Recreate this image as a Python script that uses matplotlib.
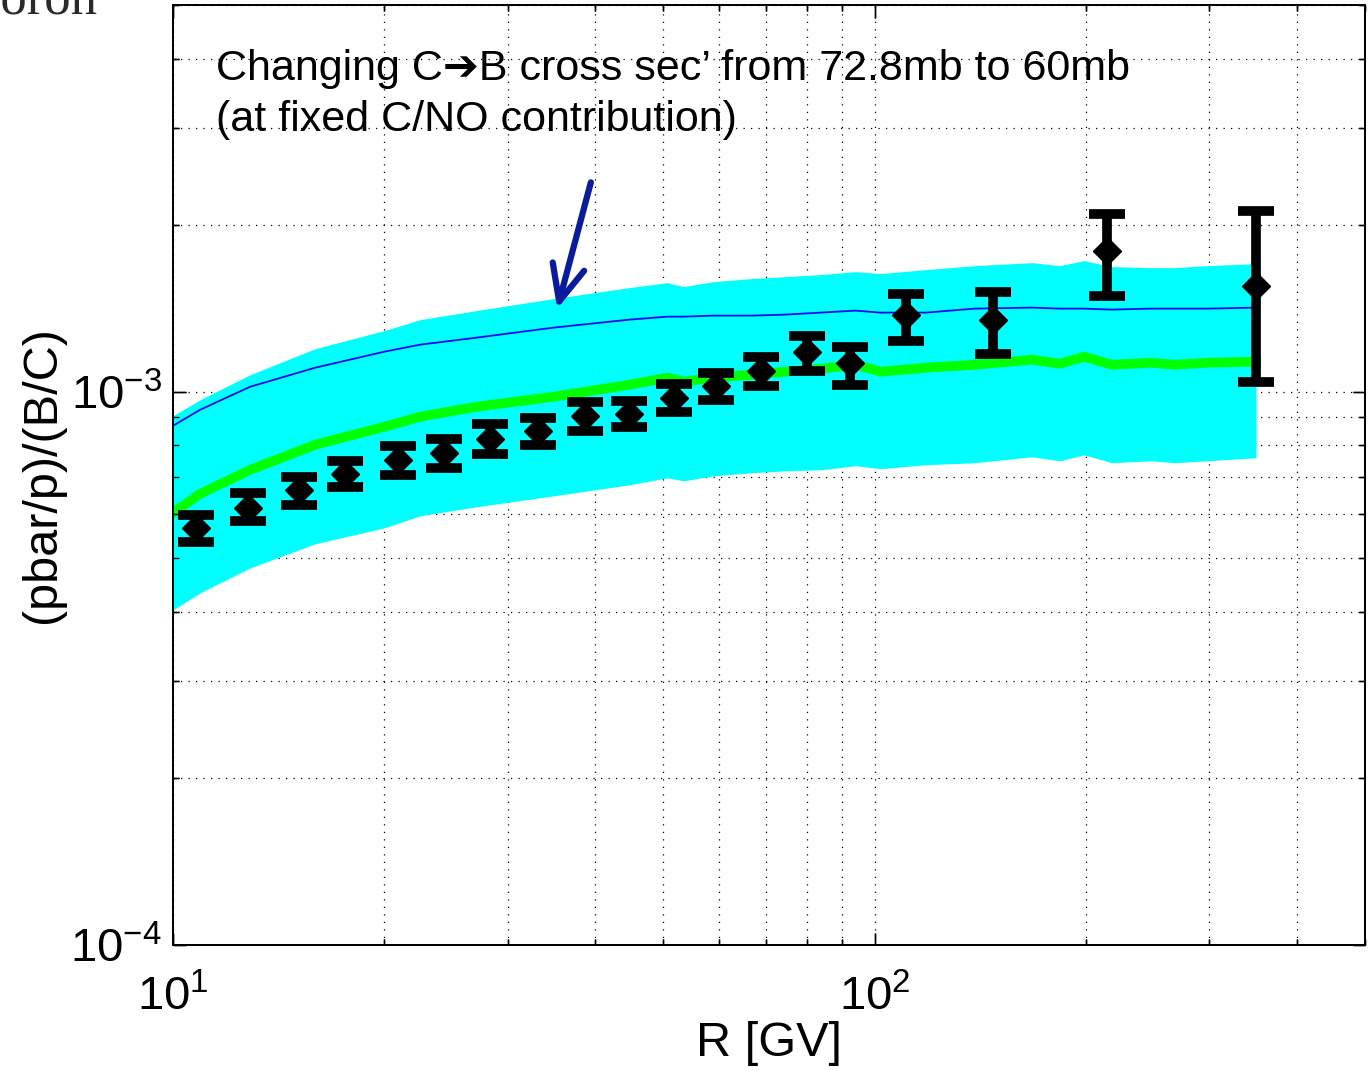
import matplotlib
matplotlib.use("Agg")
import matplotlib.pyplot as plt
import numpy as np

plt.rcParams['font.family'] = ['Liberation Sans', 'DejaVu Sans']
plt.rcParams['mathtext.fontset'] = 'custom'
plt.rcParams['mathtext.rm'] = 'Liberation Sans'
plt.rcParams['mathtext.it'] = 'Liberation Sans'
plt.rcParams['mathtext.bf'] = 'Liberation Sans'

# ---- data (y values in units of 1e-3) ----
data_R = [10.8, 12.8, 15.1, 17.6, 20.9, 24.3, 28.3, 33.1, 38.6, 44.6,
          51.7, 59.5, 68.8, 80.2, 92.1, 110.7, 147.3, 214.3, 350.0]
data_val = [0.568, 0.617, 0.665, 0.711, 0.754, 0.776, 0.822, 0.850, 0.905, 0.913,
            0.975, 1.025, 1.091, 1.181, 1.128, 1.378, 1.349, 1.799, 1.555]
data_hi = [0.599, 0.657, 0.702, 0.750, 0.799, 0.822, 0.875, 0.898, 0.959, 0.963,
           1.034, 1.082, 1.157, 1.263, 1.206, 1.504, 1.516, 2.098, 2.125]
data_lo = [0.536, 0.584, 0.625, 0.673, 0.708, 0.729, 0.773, 0.802, 0.850, 0.864,
           0.920, 0.967, 1.025, 1.091, 1.030, 1.236, 1.171, 1.491, 1.043]

model_R = [10.0, 10.93, 12.88, 15.94, 20.0, 22.5, 27.05, 34.84, 44.72, 50.66,
           53.4, 58.9, 66.6, 74.6, 83.7, 93.96, 102.0, 118.2, 138.9, 167.5,
           183.6, 198.7, 217.8, 247.6, 267.9, 297.6, 349.6]
green_fit = [0.6042, 0.6541, 0.7226, 0.8021, 0.8643, 0.9012, 0.9394, 0.9794, 1.0296, 1.0600,
             1.0425, 1.0600, 1.0733, 1.0869, 1.1005, 1.1188, 1.0869, 1.1050, 1.1188, 1.1424,
             1.1236, 1.1568, 1.1188, 1.1283, 1.1188, 1.1283, 1.1330]
blue_changed = [0.8680, 0.9278, 1.0210, 1.1050, 1.1813, 1.2163, 1.2522, 1.3056, 1.3499, 1.3668,
                1.3668, 1.3725, 1.3725, 1.3783, 1.3899, 1.4015, 1.3899, 1.3899, 1.4132, 1.4191,
                1.4132, 1.4132, 1.4074, 1.4132, 1.4132, 1.4132, 1.4191]
band_upper = [0.9050, 0.9672, 1.0733, 1.1962, 1.2894, 1.3499, 1.4015, 1.4732, 1.5423, 1.5747,
              1.5487, 1.5813, 1.6012, 1.6146, 1.6281, 1.6482, 1.6349, 1.6620, 1.6899, 1.7111,
              1.6899, 1.7254, 1.6829, 1.6759, 1.6759, 1.6899, 1.7040]
band_lower = [0.4035, 0.4331, 0.4805, 0.5311, 0.5676, 0.5967, 0.6194, 0.6484, 0.6788, 0.6989,
              0.6902, 0.7047, 0.7136, 0.7195, 0.7226, 0.7350, 0.7259, 0.7380, 0.7443, 0.7628,
              0.7502, 0.7692, 0.7443, 0.7502, 0.7443, 0.7502, 0.7597]

annot_lines = ["Changing C\u2794B cross sec\u2019 from 72.8mb to 60mb",
               "(at fixed C/NO contribution)"]

scale = 1e-3
fig = plt.figure(figsize=(13.71, 10.71), dpi=100)
pos = [173/1371, 1 - 945/1071, (1365-173)/1371, (945-5)/1071]
ax = fig.add_axes(pos)

mR = np.array(model_R)
ax.fill_between(mR, np.array(band_lower)*scale, np.array(band_upper)*scale,
                color='#00FFFF', linewidth=0, zorder=2)
ax.plot(mR, np.array(green_fit)*scale, color='#00FF00', lw=7, zorder=3,
        solid_joinstyle='round')
ax.plot(mR, np.array(blue_changed)*scale, color='#0A0AF0', lw=1.3, zorder=4)

v = np.array(data_val)*scale
lo = np.array(data_lo)*scale
hi = np.array(data_hi)*scale
ax.errorbar(data_R, v, yerr=[v-lo, hi-v], fmt='D', color='black', ms=14,
            elinewidth=7, capsize=13, capthick=7, zorder=5)

ax.set_xscale('log')
ax.set_yscale('log')
ax.set_xlim(10, 500)
ax.set_ylim(1e-4, 5e-3)
ax.set_axisbelow(True)
ax.grid(True, which='both', linestyle=(0, (1, 5)), color='black', lw=0.9)

ax.set_xticks([10, 100])
ax.set_xticklabels([r'$10^{1}$', r'$10^{2}$'])
ax.set_yticks([1e-4, 1e-3])
ax.set_yticklabels([r'$10^{-4}$', r'$10^{-3}$'])
ax.tick_params(which='both', direction='in', top=True, right=True)
ax.tick_params(which='major', length=9, width=1, labelsize=34)
ax.tick_params(axis='x', which='major', pad=22)
ax.tick_params(axis='y', which='major', pad=8)
ax.tick_params(which='minor', length=4.5, width=1)
for s in ax.spines.values():
    s.set_linewidth(1.3)

ax.set_xlabel('R [GV]', fontsize=35, labelpad=0)
ax.set_ylabel('(pbar/p)/(B/C)', fontsize=35, labelpad=4)

# overlay axes so the ticks appear above the band
ax2 = fig.add_axes(pos, sharex=ax, sharey=ax)
ax2.patch.set_visible(False)
ax2.tick_params(which='both', direction='in', top=True, right=True,
                labelleft=False, labelbottom=False)
ax2.tick_params(which='major', length=9, width=1)
ax2.tick_params(which='minor', length=4.5, width=1)
for s in ax2.spines.values():
    s.set_linewidth(1.3)

ax.text(0.036, 0.932, annot_lines[0], transform=ax.transAxes, fontsize=31,
        ha='left', va='center')
ax.text(0.036, 0.878, annot_lines[1], transform=ax.transAxes, fontsize=31,
        ha='left', va='center')

ax.annotate('', xy=(35.2, 1.396e-3), xytext=(39.5, 2.417e-3),
            arrowprops=dict(arrowstyle='->,head_length=1.0,head_width=0.45',
                            mutation_scale=26, color='#0B1B9E', lw=4.5),
            zorder=6)

fig.text(-0.019, 0.987, 'boron', fontsize=38, family='Liberation Serif',
         color='#2a2a2a', ha='left', va='baseline')

fig.savefig('out.png', dpi=100)
